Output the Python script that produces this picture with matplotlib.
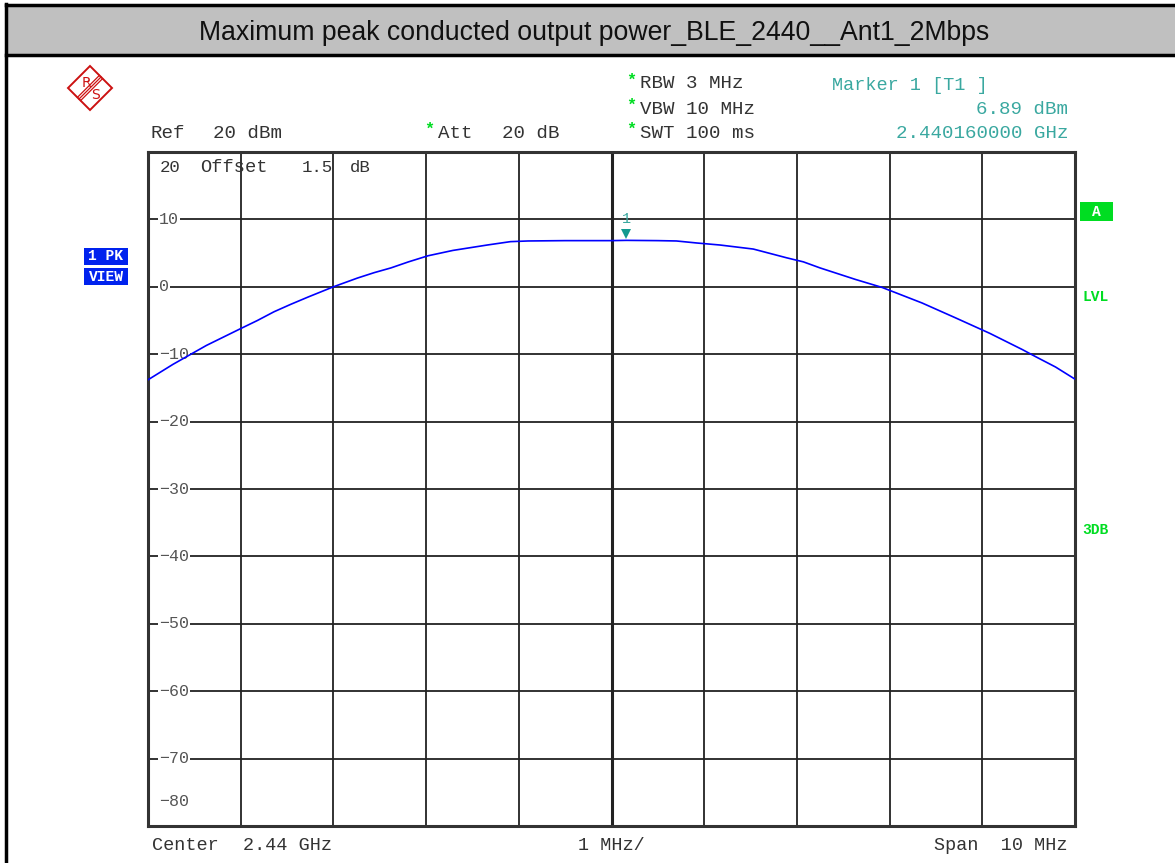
import numpy as np
import matplotlib
matplotlib.use("Agg")
import matplotlib.pyplot as plt
from matplotlib.patches import Rectangle, Polygon

W, H = 1175, 863

# frequency offset from centre (MHz) and trace level (dBm)
freq_mhz = [-5.0, -4.73, -4.55, -4.37, -4.0, -3.82, -3.64, -3.46, -3.27, -3.0,
            -2.74, -2.56, -2.38, -2.19, -1.98, -1.71, -1.34, -1.09, -0.90, -0.5,
            0.0, 0.16, 0.5, 0.70, 0.92, 1.17, 1.53, 1.89, 2.07, 2.25,
            2.63, 2.92, 3.07, 3.35, 3.71, 4.08, 4.43, 4.58, 4.79, 5.0]
level_dbm = [-13.8, -11.5, -10.1, -8.7, -6.2, -5.0, -3.7, -2.6, -1.5, 0.0,
             1.3, 2.1, 2.8, 3.7, 4.6, 5.4, 6.2, 6.7, 6.8, 6.85,
             6.85, 6.89, 6.85, 6.8, 6.5, 6.2, 5.6, 4.3, 3.7, 2.8,
             1.1, -0.1, -0.9, -2.4, -4.6, -6.9, -9.3, -10.4, -11.9, -13.7]
center_ghz = 2.44
marker_ghz = 2.44016
marker_dbm = 6.89
y_ticks = [10, 0, -10, -20, -30, -40, -50, -60, -70]

title = "Maximum peak conducted output power_BLE_2440__Ant1_2Mbps"

mono = "Liberation Mono"
teal = "#3aa8a0"
green = "#00dd22"
txt = "#333333"
fs = 13.8


def fx(x):
    return x / W


def fy(y):
    return 1 - y / H


def ftext(x, y, s, **kw):
    kw.setdefault("family", mono)
    kw.setdefault("fontsize", fs)
    kw.setdefault("color", txt)
    kw.setdefault("va", "center")
    return fig.text(fx(x), fy(y), s, **kw)


fig = plt.figure(figsize=(W / 100, H / 100), dpi=100)

# outer frame and title bar
fig.add_artist(Rectangle((fx(6), fy(55)), 1 - fx(6), fy(5) - fy(55), transform=fig.transFigure,
                         facecolor="#c0c0c0", edgecolor="none"))
fig.add_artist(plt.Line2D([fx(6), 1], [fy(5), fy(5)], color="black", lw=2.5, transform=fig.transFigure))
fig.add_artist(plt.Line2D([fx(6), 1], [fy(55.5), fy(55.5)], color="black", lw=2.5, transform=fig.transFigure))
fig.add_artist(plt.Line2D([fx(6), fx(6)], [0, fy(4)], color="black", lw=2.5, transform=fig.transFigure))
fig.text(fx(594), fy(33), title, ha="center", va="center", fontsize=19.2,
         family="Liberation Sans", color="#111111")

# R&S logo
cx, cy, r = 90, 88, 22
red = "#cc1111"
fig.add_artist(Polygon([(fx(cx), fy(cy - r)), (fx(cx + r), fy(cy)), (fx(cx), fy(cy + r)), (fx(cx - r), fy(cy))],
                       closed=True, transform=fig.transFigure, facecolor="white", edgecolor=red, lw=1.4))
for d in (-1.6, 0, 1.6):
    fig.add_artist(plt.Line2D([fx(cx - 11 + d), fx(cx + 11 + d)], [fy(cy + 11 + d), fy(cy - 11 + d)],
                              color=red, lw=0.9, transform=fig.transFigure))
fig.text(fx(cx - 4), fy(cy - 5), "R", color=red, fontsize=10, ha="center", va="center")
fig.text(fx(cx + 6), fy(cy + 7), "S", color=red, fontsize=10, ha="center", va="center")

# plot area
ax = fig.add_axes([fx(148), fy(826), fx(1075) - fx(148), fy(152) - fy(826)])
x = [center_ghz + f / 1000 for f in freq_mhz]
x0 = center_ghz - 0.005
ax.set_xlim(x0, center_ghz + 0.005)
ax.set_ylim(-80, 20)
ax.set_xticks([])
ax.set_yticks([])
for s in ax.spines.values():
    s.set_linewidth(2.2)
    s.set_color("#333333")
for i in range(1, 10):
    ax.axvline(x0 + i * 0.001, color="#222222", lw=1.3 if i != 5 else 2.2, zorder=1)
for yv in y_ticks:
    ax.axhline(yv, color="#222222", lw=1.3, zorder=1)
    ax.text(x0 + 0.00012, yv, str(yv).replace("-", "\u2212"), ha="left", va="center",
            family=mono, fontsize=12, color="#555555", zorder=2,
            bbox=dict(facecolor="white", edgecolor="none", pad=0.5))
ax.text(x0 + 0.00012, -76.3, "\u221280", ha="left", va="center", family=mono,
        fontsize=12, color="#555555")
# offset line inside top cell
for xp, s in [(160, "20"), (200, "Offset"), (302, "1.5"), (350, "dB")]:
    ftext(xp, 167, s, fontsize=12.5 if s != "Offset" else 13.5)
ax.plot(x, level_dbm, color="#0000ff", lw=1.2, zorder=3)
ax.plot([marker_ghz], [marker_dbm + 0.9], marker="v", color="#129a90", markersize=7.5, zorder=4,
        markeredgewidth=0)
ax.text(marker_ghz, marker_dbm + 3.2, "1", color=teal, ha="center", va="center", family=mono, fontsize=11)


# header texts
def star(xp, yp):
    ftext(xp, yp, "*", color=green, fontsize=12, ha="center", weight="bold")


ftext(150, 133, "Ref")
ftext(213, 133, "20 dBm")
star(429, 129)
ftext(438, 133, "Att")
ftext(502, 133, "20 dB")
for yp, t in [(84, "RBW 3 MHz"), (109, "VBW 10 MHz"), (133, "SWT 100 ms")]:
    star(631, yp - 4)
    ftext(640, yp, t)
ftext(832, 85, "Marker 1 [T1 ]", color=teal, fontsize=13.3)
ftext(1068, 109, "6.89 dBm", color=teal, ha="right")
ftext(1068, 133, "2.440160000 GHz", color=teal, ha="right")

# footer texts
ftext(152, 845, "Center", fontsize=13.3)
ftext(243, 845, "2.44 GHz", fontsize=13.3)
ftext(611, 845, "1 MHz/", ha="center", fontsize=13.3)
ftext(1068, 845, "Span  10 MHz", ha="right", fontsize=13.3)

# side labels
for y0, t in [(248, "1 PK"), (268, "VIEW")]:
    fig.add_artist(Rectangle((fx(84), fy(y0 + 17)), fx(128) - fx(84), fy(y0) - fy(y0 + 17),
                             transform=fig.transFigure, facecolor="#0022ee", edgecolor="none"))
    ftext(106, y0 + 8.5, t, fontsize=10.5, weight="bold", color="white", ha="center")
fig.add_artist(Rectangle((fx(1080), fy(221)), fx(1113) - fx(1080), fy(202) - fy(221),
                         transform=fig.transFigure, facecolor=green, edgecolor="none"))
ftext(1096.5, 211.5, "A", fontsize=10.5, weight="bold", color="white", ha="center")
ftext(1082, 297, "LVL", fontsize=10.5, weight="bold", color=green)
ftext(1082, 530, "3DB", fontsize=10.5, weight="bold", color=green)

fig.savefig("out.png", dpi=100)
